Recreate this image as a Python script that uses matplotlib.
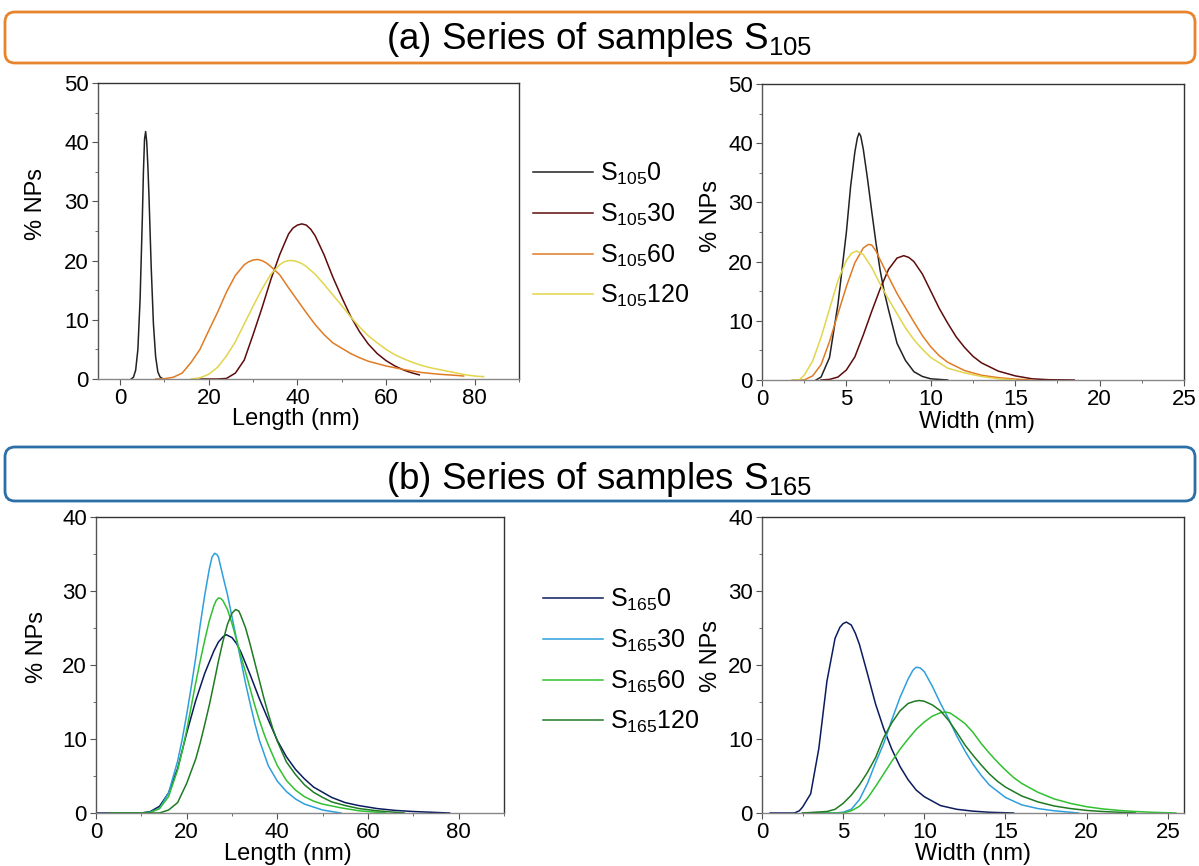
import matplotlib
matplotlib.use("Agg")
import matplotlib.pyplot as plt
from matplotlib.patches import FancyBboxPatch
from matplotlib.transforms import IdentityTransform
from matplotlib.ticker import MultipleLocator

plt.rcParams['font.family'] = ['Liberation Sans', 'DejaVu Sans']
plt.rcParams['mathtext.fontset'] = 'custom'
plt.rcParams['mathtext.rm'] = 'Liberation Sans'
plt.rcParams['mathtext.default'] = 'regular'

# ---- (a) S105 series, length (nm) vs % NPs
len105_0_x = [2.5, 3, 3.5, 4, 4.5, 5, 5.25, 5.5, 5.75, 6, 6.25, 6.5, 7, 7.5, 8, 8.5, 9, 9.5, 10]
len105_0_y = [0, 0.3, 1.5, 5, 13.5, 27, 35, 40.5, 41.8, 40, 36, 31, 19, 9.4, 3.8, 1.2, 0.35, 0.1, 0]
len105_30_x = [18, 22, 24, 26, 28, 30, 32, 34, 36, 38, 39, 40, 41, 42, 43, 44, 46, 48, 50, 52, 54, 56, 58, 60, 62, 64, 66, 67.5]
len105_30_y = [0, 0, 0.1, 1, 3.2, 7.5, 12, 16.8, 21, 24.5, 25.5, 26, 26.2, 26, 25.3, 24.2, 21, 17.2, 13.8, 10.6, 8, 5.9, 4.3, 3.1, 2.2, 1.5, 1.0, 0.7]
len105_60_x = [8, 10, 12, 14, 16, 18, 20, 22, 24, 26, 28, 29, 30, 31, 32, 33, 34, 36, 38, 40, 42, 44, 46, 48, 50, 52, 54, 56, 58, 60, 64, 68, 72, 76, 77.5]
len105_60_y = [0, 0.05, 0.3, 1, 2.8, 5, 8.2, 11.3, 14.7, 17.5, 19.3, 19.8, 20.1, 20.2, 20, 19.6, 19, 17.6, 15.4, 13.3, 11.2, 9.2, 7.5, 6.1, 5.2, 4.3, 3.6, 3.0, 2.6, 2.2, 1.6, 1.1, 0.8, 0.6, 0.5]
len105_120_x = [16, 18, 20, 22, 24, 26, 28, 30, 32, 34, 36, 37, 38, 39, 40, 41, 42, 44, 46, 48, 50, 52, 54, 56, 58, 60, 62, 64, 66, 68, 70, 72, 74, 76, 78, 80, 82]
len105_120_y = [0, 0.2, 0.8, 2, 3.9, 6.3, 9.3, 12.3, 15.2, 17.7, 19.3, 19.8, 20, 20, 19.8, 19.5, 19, 17.7, 16, 14.2, 12.4, 10.5, 8.8, 7.3, 6.1, 5, 4.1, 3.4, 2.8, 2.3, 1.9, 1.6, 1.3, 1.0, 0.7, 0.5, 0.4]

# ---- (a) S105 series, width (nm)
wid105_0_x = [3.2, 3.5, 4, 4.5, 5, 5.25, 5.5, 5.65, 5.75, 5.85, 6, 6.25, 6.5, 6.75, 7, 7.25, 7.5, 8, 8.5, 9, 9.5, 10, 11]
wid105_0_y = [0, 0.5, 3.8, 12.8, 25, 32.7, 38.5, 40.9, 41.7, 41.2, 39, 34, 28.5, 23.2, 18.5, 14.8, 11.8, 6.2, 3.3, 1.4, 0.6, 0.2, 0]
wid105_30_x = [3.5, 4, 4.5, 5, 5.5, 6, 6.5, 7, 7.5, 8, 8.4, 8.7, 9, 9.5, 10, 10.5, 11, 11.5, 12, 12.5, 13, 14, 15, 16, 17, 18.5]
wid105_30_y = [0, 0.1, 0.5, 1.7, 3.9, 7.6, 11.6, 15.4, 18.7, 20.6, 21, 20.7, 20, 17.9, 15, 12.1, 9.6, 7.3, 5.5, 4, 2.9, 1.5, 0.7, 0.2, 0.05, 0]
wid105_60_x = [1.8, 2.5, 3, 3.5, 4, 4.5, 5, 5.5, 6, 6.3, 6.5, 6.75, 7, 7.5, 8, 8.5, 9, 9.5, 10, 10.5, 11, 12, 13, 14, 15, 16]
wid105_60_y = [0, 0, 0.7, 2.6, 6.5, 11.2, 15.8, 19.8, 22.3, 22.9, 22.8, 21.8, 20.3, 17.4, 14.6, 12.2, 9.8, 7.5, 5.6, 4.1, 3.0, 1.6, 0.8, 0.4, 0.15, 0]
wid105_120_x = [1.8, 2.2, 2.5, 3, 3.5, 4, 4.5, 5, 5.3, 5.6, 6, 6.5, 7, 7.5, 8, 8.5, 9, 9.5, 10, 11, 12, 13, 14, 15]
wid105_120_y = [0, 0, 0.8, 3.2, 7.2, 12, 16.8, 20.2, 21.4, 21.8, 21.2, 19, 16.2, 13.6, 11.2, 8.8, 6.8, 5.2, 3.8, 2, 1.2, 0.6, 0.2, 0]

# ---- (b) S165 series, length (nm)
len165_0_x = [0, 10, 12, 14, 16, 18, 20, 22, 24, 26, 27, 28, 28.7, 30, 31, 32, 34, 36, 38, 40, 42, 44, 46, 48, 50, 52, 55, 58, 62, 66, 70, 74, 78]
len165_0_y = [0, 0, 0.2, 0.9, 2.7, 6, 10.8, 15.2, 18.9, 21.9, 23.1, 23.8, 24.1, 23.7, 22.9, 21.7, 18.7, 15.5, 12.6, 9.8, 7.6, 5.9, 4.6, 3.5, 2.8, 2.1, 1.4, 1.0, 0.6, 0.35, 0.2, 0.1, 0]
len165_30_x = [3, 10, 12, 14, 16, 18, 19, 20, 21, 22, 23, 24, 25, 25.6, 26.2, 26.7, 27, 28, 29, 30, 31, 32, 33, 34, 35, 36, 38, 40, 42, 44, 46, 48, 50, 52, 54]
len165_30_y = [0, 0, 0.1, 0.6, 2.7, 7, 9.9, 13.3, 17, 21, 25.5, 29.5, 33, 34.6, 35.1, 34.9, 34.6, 32, 29.5, 26.5, 23.5, 20.5, 17.5, 14.8, 12.2, 9.9, 6.4, 4.3, 2.9, 1.9, 1.2, 0.8, 0.4, 0.2, 0]
len165_60_x = [3, 10, 12, 14, 16, 18, 19, 20, 21, 22, 23, 24, 25, 26, 26.5, 27, 27.5, 28, 29, 30, 31, 32, 33, 34, 35, 36, 37, 38, 40, 42, 44, 46, 48, 50, 54, 58, 62, 64]
len165_60_y = [0, 0, 0.1, 0.6, 2.2, 5.8, 8.3, 11.2, 14.4, 17.6, 20.6, 23.4, 26, 28, 28.7, 29.05, 29, 28.7, 27.5, 25.6, 23.4, 21.1, 19, 16.8, 14.6, 12.6, 10.8, 9.2, 6.4, 4.4, 3.1, 2.2, 1.6, 1.2, 0.7, 0.3, 0.1, 0]
len165_120_x = [3, 14, 16, 18, 20, 22, 23, 24, 25, 26, 27, 28, 29, 30, 30.8, 31.5, 32, 33, 34, 35, 36, 37, 38, 39, 40, 42, 44, 46, 48, 50, 52, 55, 58, 62, 66, 68]
len165_120_y = [0, 0, 0.4, 1.4, 4, 7.3, 9.5, 12, 14.6, 17.5, 20.5, 23.2, 25.5, 27, 27.5, 27.3, 26.6, 25, 22.8, 20.4, 18, 15.6, 13.4, 11.4, 9.7, 6.9, 5.2, 3.8, 2.8, 2.1, 1.5, 1.0, 0.6, 0.3, 0.1, 0]

# ---- (b) S165 series, width (nm)
wid165_0_x = [0.5, 2, 2.3, 2.5, 3, 3.5, 4, 4.5, 4.8, 5, 5.2, 5.5, 5.75, 6, 6.5, 7, 7.5, 8, 8.5, 9, 9.5, 10, 11, 12, 13, 14, 15.5]
wid165_0_y = [0, 0, 0.3, 0.8, 2.6, 8.7, 17.8, 23.6, 25.1, 25.6, 25.8, 25.4, 24.3, 22.8, 18.8, 14.7, 11.4, 8.6, 6.3, 4.5, 3.1, 2.2, 1.0, 0.5, 0.25, 0.1, 0]
wid165_30_x = [2.5, 4.5, 5, 5.5, 6, 6.5, 7, 7.5, 8, 8.5, 9, 9.3, 9.5, 9.75, 10, 10.5, 11, 11.5, 12, 12.5, 13, 13.5, 14, 15, 16, 17, 18, 19, 19.5]
wid165_30_y = [0, 0, 0.1, 0.5, 1.8, 4, 6.8, 9.4, 12.6, 15.6, 18.1, 19.3, 19.7, 19.6, 19.1, 17.1, 14.8, 12.7, 10.4, 8.4, 6.6, 5.1, 3.8, 2.1, 1.1, 0.6, 0.3, 0.1, 0]
wid165_60_x = [2.5, 5, 5.5, 6, 6.5, 7, 7.5, 8, 8.5, 9, 9.5, 10, 10.5, 11, 11.3, 11.6, 12, 12.5, 13, 13.5, 14, 14.5, 15, 15.5, 16, 17, 18, 19, 20, 21, 22, 23, 24, 25.5]
wid165_60_y = [0, 0, 0.3, 0.9, 2, 3.6, 5.3, 7, 8.6, 10, 11.3, 12.3, 13.1, 13.55, 13.65, 13.5, 12.9, 12.1, 10.9, 9.4, 8.1, 6.9, 5.8, 4.8, 4, 2.8, 1.9, 1.3, 0.85, 0.55, 0.35, 0.2, 0.1, 0]
wid165_120_x = [2.5, 4, 4.5, 5, 5.5, 6, 6.5, 7, 7.5, 8, 8.5, 9, 9.4, 9.7, 10, 10.5, 11, 11.5, 12, 12.5, 13, 13.5, 14, 14.5, 15, 16, 17, 18, 19, 20, 21, 22, 23]
wid165_120_y = [0, 0.2, 0.5, 1.3, 2.4, 3.8, 5.5, 7.5, 10.2, 12.2, 13.8, 14.8, 15.1, 15.2, 15.1, 14.6, 13.8, 12.5, 10.9, 9.2, 7.8, 6.5, 5.3, 4.3, 3.5, 2.3, 1.5, 0.95, 0.6, 0.35, 0.2, 0.1, 0]

labels_105 = ["S$_{105}$0", "S$_{105}$30", "S$_{105}$60", "S$_{105}$120"]
labels_165 = ["S$_{165}$0", "S$_{165}$30", "S$_{165}$60", "S$_{165}$120"]
colors_105 = ['#222222', '#5E0B0B', '#E07B24', '#E2D54C']
colors_165 = ['#0B1B5E', '#2E9FDC', '#30C030', '#1E7B22']

W, H = 1199, 866
fig = plt.figure(figsize=(W / 100, H / 100), dpi=100)


def px_axes(left, right, top, bottom):
    return fig.add_axes([left / W, 1 - bottom / H, (right - left) / W, (bottom - top) / H])


def style(ax, xlim, ylim, xmaj, xmin, ymaj, ymin, xlabel, lab_x, lab_y, ylab_x, ylab_y):
    ax.set_xlim(*xlim)
    ax.set_ylim(*ylim)
    ax.xaxis.set_major_locator(MultipleLocator(xmaj))
    ax.xaxis.set_minor_locator(MultipleLocator(xmin))
    ax.yaxis.set_major_locator(MultipleLocator(ymaj))
    ax.yaxis.set_minor_locator(MultipleLocator(ymin))
    ax.tick_params(which='both', direction='out', colors='#555555', labelcolor='black',
                   labelsize=16, top=False, right=False)
    ax.tick_params(which='major', length=4, pad=2.5)
    ax.tick_params(which='minor', length=2.5)
    ax.spines['bottom'].set_color('#888888')
    ax.spines['left'].set_color('#555555')
    ax.spines['top'].set_color('#333333')
    ax.spines['right'].set_color('#333333')
    for s in ax.spines.values():
        s.set_linewidth(1.0)
    ax.set_xlabel(xlabel, fontsize=17)
    ax.set_ylabel('% NPs', fontsize=17)
    ax.xaxis.set_label_coords(lab_x, lab_y)
    ax.yaxis.set_label_coords(ylab_x, ylab_y)


# panel positions in pixels (left, right, top, bottom)
ax1 = px_axes(98, 519, 83, 379)
ax2 = px_axes(762, 1184, 84, 380)
ax3 = px_axes(96, 504, 517, 813)
ax4 = px_axes(762, 1184, 517, 813)

lw = 1.1
lines_a = []
for xs, ys, c, lab in zip([len105_0_x, len105_30_x, len105_60_x, len105_120_x],
                          [len105_0_y, len105_30_y, len105_60_y, len105_120_y],
                          colors_105, labels_105):
    ln, = ax1.plot(xs, ys, color=c, lw=lw, label=lab)
    lines_a.append(ln)
for xs, ys, c in zip([wid105_0_x, wid105_30_x, wid105_60_x, wid105_120_x],
                     [wid105_0_y, wid105_30_y, wid105_60_y, wid105_120_y], colors_105):
    ax2.plot(xs, ys, color=c, lw=lw)

lines_b = []
for xs, ys, c, lab in zip([len165_0_x, len165_30_x, len165_60_x, len165_120_x],
                          [len165_0_y, len165_30_y, len165_60_y, len165_120_y],
                          colors_165, labels_165):
    ln, = ax3.plot(xs, ys, color=c, lw=lw, label=lab)
    lines_b.append(ln)
for xs, ys, c in zip([wid165_0_x, wid165_30_x, wid165_60_x, wid165_120_x],
                     [wid165_0_y, wid165_30_y, wid165_60_y, wid165_120_y], colors_165):
    ax4.plot(xs, ys, color=c, lw=lw)

style(ax1, (-5, 90), (0, 50), 20, 10, 10, 5, 'Length (nm)', 0.47, -0.098, -0.12, 0.59)
style(ax2, (0, 25), (0, 50), 5, 2.5, 10, 5, 'Width (nm)', 0.51, -0.105, -0.095, 0.555)
style(ax3, (0, 90), (0, 40), 20, 10, 10, 5, 'Length (nm)', 0.47, -0.10, -0.117, 0.56)
style(ax4, (0, 26), (0, 40), 5, 2.5, 10, 5, 'Width (nm)', 0.50, -0.103, -0.095, 0.53)

leg_kw = dict(frameon=False, fontsize=18, handlelength=2.4, handletextpad=0.3,
              labelspacing=0.58, borderpad=0, borderaxespad=0, loc='upper left')
fig.legend(handles=lines_a, bbox_to_anchor=(533 / W, 1 - 161 / H), **leg_kw)
fig.legend(handles=lines_b, bbox_to_anchor=(543 / W, 1 - 587 / H), **leg_kw)

# title banners
banner_kw = dict(boxstyle='round,pad=0,rounding_size=10', facecolor='white',
                 linewidth=2.0, transform=IdentityTransform())
fig.patches.append(FancyBboxPatch((5, H - 63), 1190, 51, edgecolor='#E8842C', **banner_kw))
fig.patches.append(FancyBboxPatch((5, H - 501), 1190, 54, edgecolor='#2C6EA6', **banner_kw))
fig.text(0.5, 1 - 49 / H, '(a) Series of samples S$_{105}$', ha='center', va='baseline', fontsize=26.5)
fig.text(0.5, 1 - 489 / H, '(b) Series of samples S$_{165}$', ha='center', va='baseline', fontsize=26.5)

fig.savefig('out.png', dpi=100)
